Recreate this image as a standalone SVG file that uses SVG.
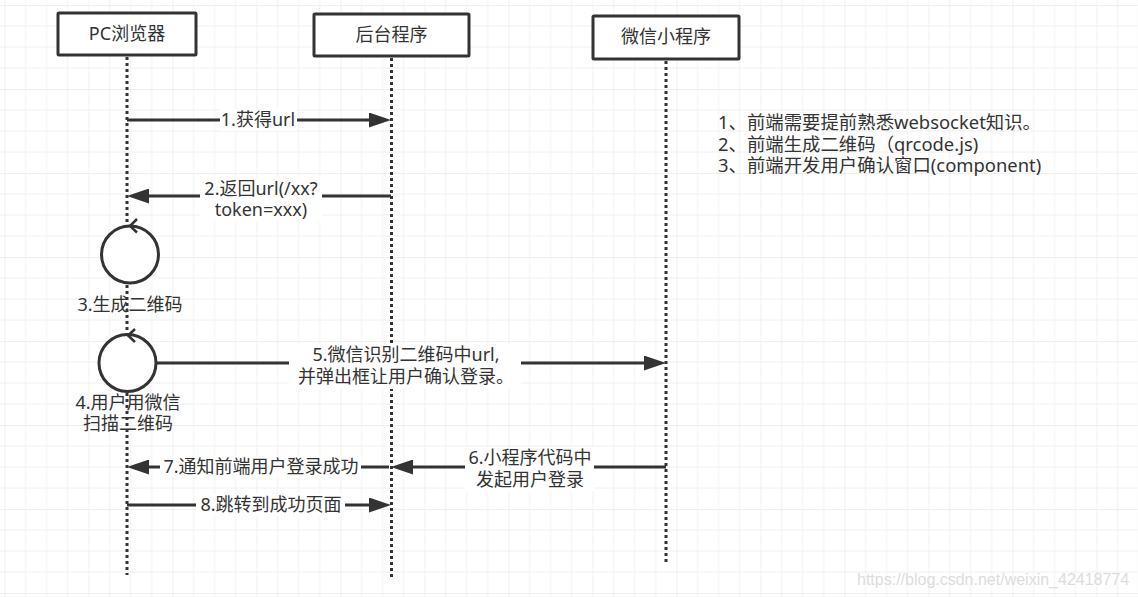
<svg xmlns="http://www.w3.org/2000/svg" width="1138" height="597" viewBox="0 0 1138 597">
<style>
.t{font-family:"Noto Sans","Noto Sans CJK SC",sans-serif;font-size:18px;fill:#333;}
.n{font-size:18.4px;}
.c{text-anchor:middle;}
.box{fill:#fff;stroke:#333;stroke-width:3;}
.life{stroke:#333;stroke-width:3;stroke-dasharray:3 3;fill:none;}
.msg{stroke:#333;stroke-width:3;fill:none;}
.bg{fill:#fff;}
.loop{fill:#fff;stroke:#333;stroke-width:3;}
.chev{fill:none;stroke:#333;stroke-width:2.5;}
</style>
<defs>
<pattern id="grid" patternUnits="userSpaceOnUse" x="4.5" y="5" width="84" height="84">
<path d="M21,0V84M42,0V84M63,0V84M0,21H84M0,42H84M0,63H84" stroke="#f0f0f0" stroke-width="1" fill="none"/>
<path d="M0,0V84M0,0H84" stroke="#e1e1e1" stroke-width="1" fill="none"/>
</pattern>
<marker id="ah" markerUnits="userSpaceOnUse" markerWidth="22" markerHeight="15" refX="16" refY="7.5" orient="auto">
<path d="M0,0L22,7.5L0,15Z" fill="#333"/>
</marker>
</defs>
<rect width="1138" height="597" fill="#fff"/>
<rect width="1138" height="597" fill="url(#grid)"/>

<g id="lifelines">
<line class="life" x1="127" y1="57" x2="127" y2="575"/>
<line class="life" x1="391.5" y1="58" x2="391.5" y2="577"/>
<line class="life" x1="666" y1="61" x2="666" y2="564"/>
</g>

<g id="node-pc"><rect class="box" x="58" y="13" width="138" height="42" rx="1"/><text class="t c" x="127" y="40">PC浏览器</text></g>
<g id="node-backend"><rect class="box" x="314" y="14" width="155" height="42" rx="1"/><text class="t c" x="391.5" y="41">后台程序</text></g>
<g id="node-miniapp"><rect class="box" x="593" y="16" width="146" height="43" rx="1"/><text class="t c" x="666" y="43">微信小程序</text></g>

<g id="connectors">
<line class="msg" x1="127" y1="120" x2="385" y2="120" marker-end="url(#ah)"/>
<line class="msg" x1="391" y1="196" x2="133" y2="196" marker-end="url(#ah)"/>
<line class="msg" x1="156" y1="363" x2="660" y2="363" marker-end="url(#ah)"/>
<line class="msg" x1="666" y1="467" x2="397" y2="467" marker-end="url(#ah)"/>
<line class="msg" x1="389" y1="467" x2="133" y2="467" marker-end="url(#ah)"/>
<line class="msg" x1="127" y1="505" x2="385" y2="505" marker-end="url(#ah)"/>
</g>

<g id="node-loop1"><circle class="loop" cx="130" cy="254.5" r="28.5"/><path class="chev" d="M137,219L130,226L137,232.5"/><text class="t c" x="130" y="311">3.生成二维码</text></g>
<g id="node-loop2"><circle class="loop" cx="127.5" cy="363" r="28.5"/><path class="chev" d="M135,329L128,335.5L135,342"/><text class="t c" x="128" y="409">4.用户用微信</text><text class="t c" x="128" y="430">扫描二维码</text></g>

<g id="labels">
<rect class="bg" x="220" y="109" width="77" height="22"/><text class="t c" x="258" y="126">1.获得url</text>
<rect class="bg" x="200" y="178" width="122" height="43"/><text class="t c" x="261" y="195">2.返回url(/xx?</text><text class="t c" x="261" y="216">token=xxx)</text>
<rect class="bg" x="289" y="344" width="232" height="45"/><text class="t c" x="406" y="361">5.微信识别二维码中url,</text><text class="t c" x="406" y="383">并弹出框让用户确认登录。</text>
<rect class="bg" x="465" y="447" width="129" height="44"/><text class="t c" x="530" y="464">6.小程序代码中</text><text class="t c" x="530" y="486">发起用户登录</text>
<rect class="bg" x="160" y="456" width="201" height="22"/><text class="t c" x="261" y="473">7.通知前端用户登录成功</text>
<rect class="bg" x="196" y="494" width="149" height="22"/><text class="t c" x="271" y="511">8.跳转到成功页面</text>
</g>

<g id="notes">
<text class="t n" x="718" y="129">1、前端需要提前熟悉websocket知识。</text>
<text class="t n" x="718" y="151">2、前端生成二维码（qrcode.js)</text>
<text class="t n" x="718" y="172">3、前端开发用户确认窗口(component)</text>
</g>

<text x="857" y="585" font-family="Liberation Sans, Arial, sans-serif" font-size="16" fill="#dcdcdc">https://blog.csdn.net/weixin_42418774</text>
</svg>
